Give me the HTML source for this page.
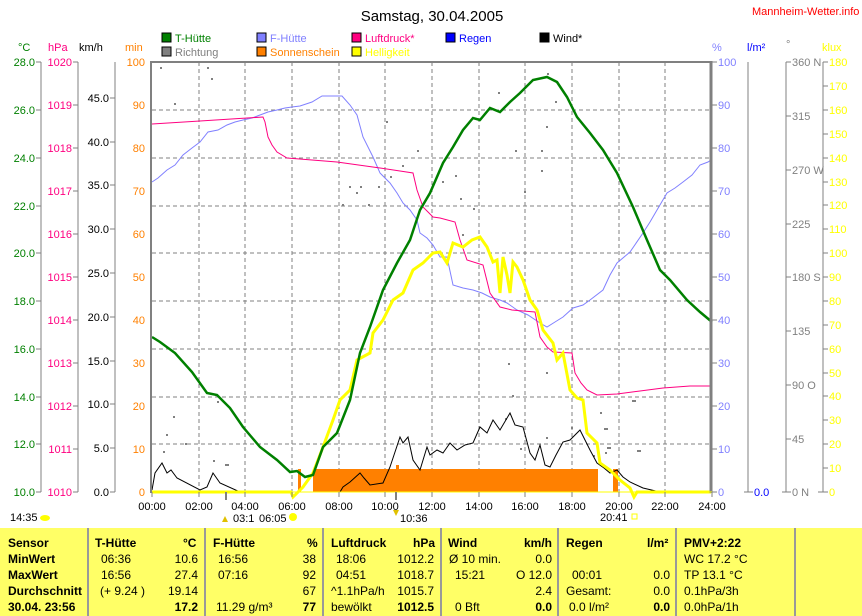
<!DOCTYPE html>
<html><head><meta charset="utf-8"><style>
body{margin:0;background:#fff;width:862px;height:616px;overflow:hidden;font-family:"Liberation Sans",sans-serif}
svg text{font-family:"Liberation Sans",sans-serif;font-size:11px}
.t{position:absolute;left:0;top:528px;width:862px;height:88px;background:#ffff66}
.c{position:absolute;top:0;height:88px;border-left:2px solid #999}
.r{position:absolute;font-size:12px;white-space:nowrap}
.b{font-weight:bold}
</style></head><body>
<svg width="862" height="528" style="position:absolute;left:0;top:0">
<text x="432" y="21" text-anchor="middle" style="font-size:15px">Samstag, 30.04.2005</text>
<text x="752" y="15" fill="#f00">Mannheim-Wetter.info</text>
<!-- legend -->
<g stroke="#000" stroke-width="1">
<rect x="162" y="33" width="9" height="9" fill="#008000"/><rect x="162" y="47" width="9" height="9" fill="#808080"/>
<rect x="257" y="33" width="9" height="9" fill="#8080ff"/><rect x="257" y="47" width="9" height="9" fill="#ff8000"/>
<rect x="352" y="33" width="9" height="9" fill="#ff0080"/><rect x="352" y="47" width="9" height="9" fill="#ffff00"/>
<rect x="446" y="33" width="9" height="9" fill="#0000ff"/><rect x="540" y="33" width="9" height="9" fill="#000"/>
</g>
<text x="175" y="42" fill="#008000">T-Hütte</text><text x="175" y="56" fill="#808080">Richtung</text>
<text x="270" y="42" fill="#8080ff">F-Hütte</text><text x="270" y="56" fill="#ff8000">Sonnenschein</text>
<text x="365" y="42" fill="#ff0080">Luftdruck*</text><text x="365" y="56" fill="#ffff00">Helligkeit</text>
<text x="459" y="42" fill="#0000ff">Regen</text><text x="553" y="42" fill="#000">Wind*</text>
<!-- unit labels -->
<text x="18" y="51" fill="#008000">°C</text><text x="48" y="51" fill="#ff0080">hPa</text><text x="79" y="51">km/h</text><text x="125" y="51" fill="#ff8000">min</text>
<text x="712" y="51" fill="#8080ff">%</text><text x="747" y="51" fill="#0000ff">l/m²</text><text x="786" y="48" fill="#808080">°</text><text x="822" y="51" fill="#ffff00">klux</text>
<!-- axes lines -->
<g stroke="#808080" stroke-width="1">
<line x1="41" y1="62" x2="41" y2="492"/><line x1="78" y1="62" x2="78" y2="492"/><line x1="115" y1="62" x2="115" y2="492"/>
<line x1="748" y1="62" x2="748" y2="492"/><line x1="786" y1="62" x2="786" y2="492"/><line x1="823" y1="62" x2="823" y2="492"/>
</g>
<g id="ax" font-size="11"></g>
<!-- grid -->
<g stroke="#808080" stroke-dasharray="4,3" stroke-width="1">
<line x1="152" y1="110" x2="710" y2="110"/><line x1="152" y1="158" x2="710" y2="158"/><line x1="152" y1="206" x2="710" y2="206"/><line x1="152" y1="253" x2="710" y2="253"/><line x1="152" y1="301" x2="710" y2="301"/><line x1="152" y1="349" x2="710" y2="349"/><line x1="152" y1="397" x2="710" y2="397"/><line x1="152" y1="444" x2="710" y2="444"/>
<line x1="199" y1="62" x2="199" y2="492"/><line x1="245" y1="62" x2="245" y2="492"/><line x1="292" y1="62" x2="292" y2="492"/><line x1="339" y1="62" x2="339" y2="492"/><line x1="385" y1="62" x2="385" y2="492"/><line x1="432" y1="62" x2="432" y2="492"/><line x1="479" y1="62" x2="479" y2="492"/><line x1="525" y1="62" x2="525" y2="492"/><line x1="572" y1="62" x2="572" y2="492"/><line x1="619" y1="62" x2="619" y2="492"/><line x1="665" y1="62" x2="665" y2="492"/>
</g>
<!-- sunshine -->
<g fill="#ff8000"><rect x="313" y="469" width="285" height="23"/><rect x="298" y="469" width="3" height="23"/><rect x="613" y="469" width="5" height="23"/><rect x="396" y="465" width="3" height="5"/></g>
<!-- direction dots -->
<g fill="#808080">
<rect x="160" y="67" width="2" height="2"/><rect x="207" y="67" width="2" height="2"/><rect x="211" y="78" width="2" height="2"/><rect x="174" y="103" width="2" height="2"/><rect x="386" y="121" width="2" height="2"/><rect x="417" y="150" width="2" height="2"/><rect x="349" y="186" width="2" height="2"/><rect x="360" y="186" width="2" height="2"/><rect x="378" y="186" width="2" height="2"/><rect x="356" y="192" width="2" height="2"/><rect x="390" y="176" width="2" height="2"/><rect x="402" y="165" width="2" height="2"/><rect x="442" y="181" width="2" height="2"/><rect x="368" y="204" width="2" height="2"/><rect x="342" y="204" width="2" height="2"/><rect x="498" y="92" width="2" height="2"/><rect x="547" y="73" width="2" height="2"/><rect x="555" y="101" width="2" height="2"/><rect x="546" y="126" width="2" height="2"/><rect x="541" y="150" width="2" height="2"/><rect x="515" y="150" width="2" height="2"/><rect x="541" y="170" width="2" height="2"/><rect x="524" y="191" width="2" height="2"/><rect x="455" y="175" width="2" height="2"/><rect x="460" y="198" width="2" height="2"/><rect x="462" y="234" width="2" height="2"/><rect x="473" y="208" width="2" height="2"/><rect x="508" y="363" width="2" height="2"/><rect x="512" y="395" width="2" height="2"/><rect x="546" y="372" width="2" height="2"/><rect x="570" y="390" width="2" height="2"/><rect x="505" y="418" width="2" height="2"/><rect x="600" y="412" width="2" height="2"/><rect x="632" y="400" width="4" height="2"/><rect x="604" y="428" width="4" height="2"/><rect x="607" y="447" width="4" height="2"/><rect x="637" y="450" width="4" height="2"/><rect x="166" y="434" width="2" height="2"/><rect x="173" y="416" width="2" height="2"/><rect x="185" y="443" width="2" height="2"/><rect x="163" y="451" width="2" height="2"/><rect x="213" y="460" width="2" height="2"/><rect x="217" y="401" width="2" height="2"/><rect x="225" y="464" width="4" height="2"/><rect x="520" y="448" width="2" height="2"/><rect x="546" y="437" width="2" height="2"/><rect x="605" y="452" width="2" height="2"/><rect x="571" y="427" width="2" height="2"/><rect x="593" y="455" width="2" height="2"/>
</g>
<!-- wind -->
<polyline fill="none" stroke="#000" stroke-width="1" points="152,490 155,473 162,463 167,473 171,470 177,478 200,490 207,487 213,473 220,483 240,492 340,492 343,487 350,482 360,473 364,478 370,485 383,483 390,467 400,437 403,443 408,437 413,460 420,470 427,447 430,455 437,450 443,453 450,443 457,450 465,445 473,443 480,427 487,433 493,420 500,430 510,413 515,425 523,427 530,453 535,460 540,445 545,465 550,467 556,455 563,442 570,440 580,430 585,440 590,450 597,463 604,468 610,473 617,470 623,477 630,482 643,488 660,492 670,492"/>
<!-- humidity -->
<polyline fill="none" stroke="#8080ff" stroke-width="1" points="152,182 158,178 167,170 175,165 183,155 192,148 200,142 208,132 218,130 227,125 235,122 243,120 252,118 260,115 268,112 277,110 285,108 292,107 300,106 312,102 322,96 342,96 350,105 357,115 363,137 373,157 380,173 390,183 397,193 403,203 410,210 417,220 420,233 427,238 433,245 440,257 447,257 453,285 463,288 473,290 482,293 490,297 500,300 507,303 517,310 528,315 540,323 547,327 555,322 563,317 573,308 583,305 590,300 603,290 610,275 617,263 630,252 643,233 650,222 657,210 667,193 675,188 683,182 692,175 700,165 708,162 711,160"/>
<!-- pressure -->
<polyline fill="none" stroke="#ff0080" stroke-width="1" points="152,124 200,121 247,118 263,117 265,122 268,137 272,145 277,152 287,158 337,162 380,168 400,171 413,173 417,190 423,207 433,217 440,218 455,222 460,240 467,260 483,265 490,293 500,307 512,310 523,311 535,312 540,337 547,347 553,352 572,353 575,373 581,383 587,390 597,395 617,394 640,391 663,388 690,386 711,386"/>
<!-- brightness -->
<polyline fill="none" stroke="#ffff00" stroke-width="3" points="152,492 291,492 293,497 303,487 313,473 323,447 333,420 340,400 350,390 357,360 370,353 373,333 383,320 393,300 403,293 413,270 423,263 433,253 440,252 447,263 453,243 463,247 472,240 480,237 487,247 493,262 497,260 500,293 503,257 507,275 510,293 513,262 517,267 523,280 530,300 537,310 543,330 553,343 557,360 563,353 570,390 577,398 583,400 587,433 597,443 600,463 610,470 620,480 630,488 634,497 637,492 711,492"/>
<!-- temperature -->
<polyline fill="none" stroke="#008000" stroke-width="2.5" points="152,337 160,342 175,353 192,372 207,393 217,395 230,408 243,427 260,447 277,460 290,472 297,471 305,477 313,475 323,447 337,433 350,400 360,353 370,327 383,290 397,263 410,240 420,210 430,193 443,163 453,147 463,130 473,118 480,120 490,108 500,112 510,102 520,93 533,80 547,77 557,82 567,97 577,117 590,133 603,150 617,173 633,207 647,240 660,270 670,280 687,300 700,312 712,322"/>
<!-- frame -->
<line x1="151" y1="62" x2="712" y2="62" stroke="#808080" stroke-width="2"/>
<line x1="151" y1="61" x2="151" y2="493" stroke="#808080" stroke-width="2"/>
<line x1="711" y1="61" x2="711" y2="493" stroke="#808080" stroke-width="3"/>
<line x1="152" y1="492" x2="712" y2="492" stroke="#ffff00" stroke-width="1"/>
<!-- bottom ticks -->
<g stroke="#808080" stroke-width="1"><line x1="152" y1="492" x2="152" y2="497"/><line x1="199" y1="492" x2="199" y2="497"/><line x1="245" y1="492" x2="245" y2="497"/><line x1="292" y1="492" x2="292" y2="497"/><line x1="339" y1="492" x2="339" y2="497"/><line x1="385" y1="492" x2="385" y2="497"/><line x1="432" y1="492" x2="432" y2="497"/><line x1="479" y1="492" x2="479" y2="497"/><line x1="525" y1="492" x2="525" y2="497"/><line x1="572" y1="492" x2="572" y2="497"/><line x1="619" y1="492" x2="619" y2="497"/><line x1="665" y1="492" x2="665" y2="497"/><line x1="712" y1="492" x2="712" y2="497"/></g>
<g stroke="#808080" stroke-width="2"><line x1="226" y1="492" x2="226" y2="500"/><line x1="396" y1="492" x2="396" y2="500"/></g>
<g text-anchor="middle"><text x="152" y="510">00:00</text><text x="199" y="510">02:00</text><text x="245" y="510">04:00</text><text x="292" y="510">06:00</text><text x="339" y="510">08:00</text><text x="385" y="510">10:00</text><text x="432" y="510">12:00</text><text x="479" y="510">14:00</text><text x="525" y="510">16:00</text><text x="572" y="510">18:00</text><text x="619" y="510">20:00</text><text x="665" y="510">22:00</text><text x="712" y="510">24:00</text></g>
<text x="10" y="521">14:35</text><ellipse cx="45" cy="518" rx="5" ry="3" fill="#ffff00"/>
<text x="233" y="522">03:1</text><path d="M228,522 l-3,-6 -3,6z" fill="#e0c000"/>
<text x="259" y="522">06:05</text><circle cx="293" cy="517" r="4" fill="#ffff00"/>
<text x="400" y="522">10:36</text><path d="M396,516 l-3,-6 6,0z" fill="#e0c000"/>
<text x="600" y="521">20:41</text><rect x="632" y="514" width="5" height="5" fill="none" stroke="#ffff00"/>
<!-- axis labels -->
<g fill="#008000" text-anchor="end">
<text x="35" y="66">28.0</text><text x="35" y="114">26.0</text><text x="35" y="162">24.0</text><text x="35" y="210">22.0</text><text x="35" y="257">20.0</text><text x="35" y="305">18.0</text><text x="35" y="353">16.0</text><text x="35" y="401">14.0</text><text x="35" y="448">12.0</text><text x="35" y="496">10.0</text></g>
<g stroke="#808080"><line x1="36" y1="62" x2="41" y2="62"/><line x1="36" y1="110" x2="41" y2="110"/><line x1="36" y1="158" x2="41" y2="158"/><line x1="36" y1="206" x2="41" y2="206"/><line x1="36" y1="253" x2="41" y2="253"/><line x1="36" y1="301" x2="41" y2="301"/><line x1="36" y1="349" x2="41" y2="349"/><line x1="36" y1="397" x2="41" y2="397"/><line x1="36" y1="444" x2="41" y2="444"/><line x1="36" y1="492" x2="41" y2="492"/></g>
<g fill="#ff0080" text-anchor="end">
<text x="72" y="66">1020</text><text x="72" y="109">1019</text><text x="72" y="152">1018</text><text x="72" y="195">1017</text><text x="72" y="238">1016</text><text x="72" y="281">1015</text><text x="72" y="324">1014</text><text x="72" y="367">1013</text><text x="72" y="410">1012</text><text x="72" y="453">1011</text><text x="72" y="496">1010</text></g>
<g stroke="#808080"><line x1="73" y1="62" x2="78" y2="62"/><line x1="73" y1="105" x2="78" y2="105"/><line x1="73" y1="148" x2="78" y2="148"/><line x1="73" y1="191" x2="78" y2="191"/><line x1="73" y1="234" x2="78" y2="234"/><line x1="73" y1="277" x2="78" y2="277"/><line x1="73" y1="320" x2="78" y2="320"/><line x1="73" y1="363" x2="78" y2="363"/><line x1="73" y1="406" x2="78" y2="406"/><line x1="73" y1="449" x2="78" y2="449"/><line x1="73" y1="492" x2="78" y2="492"/></g>
<g fill="#000" text-anchor="end">
<text x="109" y="102">45.0</text><text x="109" y="146">40.0</text><text x="109" y="189">35.0</text><text x="109" y="233">30.0</text><text x="109" y="277">25.0</text><text x="109" y="321">20.0</text><text x="109" y="365">15.0</text><text x="109" y="408">10.0</text><text x="109" y="452">5.0</text><text x="109" y="496">0.0</text></g>
<g stroke="#808080"><line x1="110" y1="98" x2="115" y2="98"/><line x1="110" y1="142" x2="115" y2="142"/><line x1="110" y1="185" x2="115" y2="185"/><line x1="110" y1="229" x2="115" y2="229"/><line x1="110" y1="273" x2="115" y2="273"/><line x1="110" y1="317" x2="115" y2="317"/><line x1="110" y1="361" x2="115" y2="361"/><line x1="110" y1="404" x2="115" y2="404"/><line x1="110" y1="448" x2="115" y2="448"/><line x1="110" y1="492" x2="115" y2="492"/></g>
<g fill="#ff8000" text-anchor="end">
<text x="145" y="66">100</text><text x="145" y="109">90</text><text x="145" y="152">80</text><text x="145" y="195">70</text><text x="145" y="238">60</text><text x="145" y="281">50</text><text x="145" y="324">40</text><text x="145" y="367">30</text><text x="145" y="410">20</text><text x="145" y="453">10</text><text x="145" y="496">0</text></g>
<g fill="#8080ff">
<text x="718" y="66">100</text><text x="718" y="109">90</text><text x="718" y="152">80</text><text x="718" y="195">70</text><text x="718" y="238">60</text><text x="718" y="281">50</text><text x="718" y="324">40</text><text x="718" y="367">30</text><text x="718" y="410">20</text><text x="718" y="453">10</text><text x="718" y="496">0</text></g>
<g stroke="#808080"><line x1="712" y1="62" x2="717" y2="62"/><line x1="712" y1="105" x2="717" y2="105"/><line x1="712" y1="148" x2="717" y2="148"/><line x1="712" y1="191" x2="717" y2="191"/><line x1="712" y1="234" x2="717" y2="234"/><line x1="712" y1="277" x2="717" y2="277"/><line x1="712" y1="320" x2="717" y2="320"/><line x1="712" y1="363" x2="717" y2="363"/><line x1="712" y1="406" x2="717" y2="406"/><line x1="712" y1="449" x2="717" y2="449"/><line x1="712" y1="492" x2="717" y2="492"/>
<line x1="744" y1="492" x2="753" y2="492"/></g>
<text x="754" y="496" fill="#0000ff">0.0</text>
<g fill="#808080">
<text x="792" y="66">360 N</text><text x="792" y="120">315</text><text x="792" y="174">270 W</text><text x="792" y="228">225</text><text x="792" y="281">180 S</text><text x="792" y="335">135</text><text x="792" y="389">90  O</text><text x="792" y="443">45</text><text x="792" y="496">0   N</text></g>
<g stroke="#808080"><line x1="786" y1="62" x2="791" y2="62"/><line x1="786" y1="116" x2="791" y2="116"/><line x1="786" y1="170" x2="791" y2="170"/><line x1="786" y1="224" x2="791" y2="224"/><line x1="786" y1="277" x2="791" y2="277"/><line x1="786" y1="331" x2="791" y2="331"/><line x1="786" y1="385" x2="791" y2="385"/><line x1="786" y1="439" x2="791" y2="439"/><line x1="782" y1="492" x2="791" y2="492"/></g>
<g fill="#ffff00">
<text x="829" y="66">180</text><text x="829" y="90">170</text><text x="829" y="114">160</text><text x="829" y="138">150</text><text x="829" y="162">140</text><text x="829" y="186">130</text><text x="829" y="209">120</text><text x="829" y="233">110</text><text x="829" y="257">100</text><text x="829" y="281">90</text><text x="829" y="305">80</text><text x="829" y="329">70</text><text x="829" y="353">60</text><text x="829" y="377">50</text><text x="829" y="400">40</text><text x="829" y="424">30</text><text x="829" y="448">20</text><text x="829" y="472">10</text><text x="829" y="496">0</text></g>
<g stroke="#808080"><line x1="823" y1="62" x2="828" y2="62"/><line x1="823" y1="86" x2="828" y2="86"/><line x1="823" y1="110" x2="828" y2="110"/><line x1="823" y1="134" x2="828" y2="134"/><line x1="823" y1="158" x2="828" y2="158"/><line x1="823" y1="182" x2="828" y2="182"/><line x1="823" y1="205" x2="828" y2="205"/><line x1="823" y1="229" x2="828" y2="229"/><line x1="823" y1="253" x2="828" y2="253"/><line x1="823" y1="277" x2="828" y2="277"/><line x1="823" y1="301" x2="828" y2="301"/><line x1="823" y1="325" x2="828" y2="325"/><line x1="823" y1="349" x2="828" y2="349"/><line x1="823" y1="373" x2="828" y2="373"/><line x1="823" y1="396" x2="828" y2="396"/><line x1="823" y1="420" x2="828" y2="420"/><line x1="823" y1="444" x2="828" y2="444"/><line x1="823" y1="468" x2="828" y2="468"/><line x1="818" y1="492" x2="828" y2="492"/></g>
</svg>
<div class="t">
<div class="c" style="left:87px"></div><div class="c" style="left:204px"></div><div class="c" style="left:322px"></div><div class="c" style="left:440px"></div><div class="c" style="left:557px"></div><div class="c" style="left:675px"></div><div class="c" style="left:794px"></div>
<div class="r b" style="left:8px;top:8px">Sensor</div><div class="r b" style="left:8px;top:24px">MinWert</div><div class="r b" style="left:8px;top:40px">MaxWert</div><div class="r b" style="left:8px;top:56px">Durchschnitt</div><div class="r b" style="left:8px;top:72px">30.04. 23:56</div>
<div class="r b" style="left:95px;top:8px">T-Hütte</div><div class="r b" style="left:183px;top:8px">°C</div>
<div class="r" style="left:101px;top:24px">06:36</div><div class="r" style="right:664px;top:24px">10.6</div>
<div class="r" style="left:101px;top:40px">16:56</div><div class="r" style="right:664px;top:40px">27.4</div>
<div class="r" style="left:100px;top:56px">(+ 9.24 )</div><div class="r" style="right:664px;top:56px">19.14</div>
<div class="r b" style="right:664px;top:72px">17.2</div>
<div class="r b" style="left:213px;top:8px">F-Hütte</div><div class="r b" style="left:307px;top:8px">%</div>
<div class="r" style="left:218px;top:24px">16:56</div><div class="r" style="right:546px;top:24px">38</div>
<div class="r" style="left:218px;top:40px">07:16</div><div class="r" style="right:546px;top:40px">92</div>
<div class="r" style="right:546px;top:56px">67</div>
<div class="r" style="left:216px;top:72px">11.29 g/m³</div><div class="r b" style="right:546px;top:72px">77</div>
<div class="r b" style="left:331px;top:8px">Luftdruck</div><div class="r b" style="left:413px;top:8px">hPa</div>
<div class="r" style="left:336px;top:24px">18:06</div><div class="r" style="right:428px;top:24px">1012.2</div>
<div class="r" style="left:336px;top:40px">04:51</div><div class="r" style="right:428px;top:40px">1018.7</div>
<div class="r" style="left:331px;top:56px">^1.1hPa/h</div><div class="r" style="right:428px;top:56px">1015.7</div>
<div class="r" style="left:331px;top:72px">bewölkt</div><div class="r b" style="right:428px;top:72px">1012.5</div>
<div class="r b" style="left:448px;top:8px">Wind</div><div class="r b" style="left:524px;top:8px">km/h</div>
<div class="r" style="left:449px;top:24px">Ø 10 min.</div><div class="r" style="right:310px;top:24px">0.0</div>
<div class="r" style="left:455px;top:40px">15:21</div><div class="r" style="right:310px;top:40px">O 12.0</div>
<div class="r" style="right:310px;top:56px">2.4</div>
<div class="r" style="left:455px;top:72px">0 Bft</div><div class="r b" style="right:310px;top:72px">0.0</div>
<div class="r b" style="left:566px;top:8px">Regen</div><div class="r b" style="left:647px;top:8px">l/m²</div>
<div class="r" style="left:572px;top:40px">00:01</div><div class="r" style="right:192px;top:40px">0.0</div>
<div class="r" style="left:566px;top:56px">Gesamt:</div><div class="r" style="right:192px;top:56px">0.0</div>
<div class="r" style="left:569px;top:72px">0.0 l/m²</div><div class="r b" style="right:192px;top:72px">0.0</div>
<div class="r b" style="left:684px;top:8px">PMV+2:22</div>
<div class="r" style="left:684px;top:24px">WC 17.2 °C</div><div class="r" style="left:684px;top:40px">TP 13.1 °C</div><div class="r" style="left:684px;top:56px">0.1hPa/3h</div><div class="r" style="left:684px;top:72px">0.0hPa/1h</div>
</div>
</body></html>
